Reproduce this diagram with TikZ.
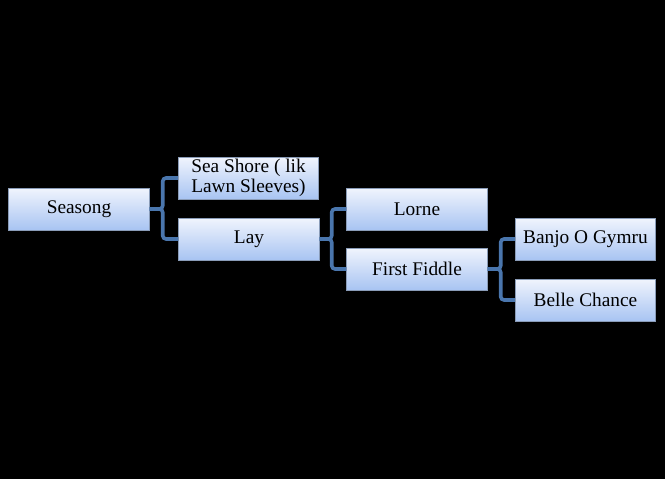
\documentclass[tikz,border=0pt]{standalone}
\usepackage{fontspec}
\setmainfont{Liberation Serif}
\definecolor{conncol}{HTML}{4A76AD}
\definecolor{boxtop}{HTML}{F0F4FD}
\definecolor{boxbot}{HTML}{A8C4F2}
\definecolor{boxedge}{HTML}{8A9CB8}
\begin{document}
\begin{tikzpicture}[x=0.75pt,y=-0.75pt,
  box/.style={draw=boxedge, line width=0.6pt, top color=boxtop, bottom color=boxbot,
    minimum width=105.5pt, minimum height=31.5pt, inner sep=1pt, align=center,
    font=\fontsize{14.5}{15}\selectfont},
  conn/.style={draw=conncol, line width=2.7pt, rounded corners=2.5pt}]
\fill[black] (0,0) rectangle (665,479);
\useasboundingbox (0,0) rectangle (665,479);
\node[box] (seasong) at (79,209) {\raisebox{-1.5pt}{Seasong}};
\node[box] (seashore) at (248.5,178) {\raisebox{-1.5pt}{\shortstack{Sea Shore ( lik\\[-1pt]Lawn Sleeves)}}};
\node[box] (lay) at (249,239) {\raisebox{-1.5pt}{Lay}};
\node[box] (lorne) at (417,209) {\raisebox{-1.5pt}{Lorne}};
\node[box] (fiddle) at (417,269) {\raisebox{-1.5pt}{First Fiddle}};
\node[box] (banjo) at (585.5,239) {\raisebox{-1.5pt}{Banjo O Gymru}};
\node[box] (belle) at (585.5,300) {\raisebox{-1.5pt}{Belle Chance}};
\draw[conn] (seasong.east) -- ++(13,0) |- (seashore.west);
\draw[conn] (seasong.east) -- ++(13,0) |- (lay.west);
\draw[conn] (lay.east) -- ++(12,0) |- (lorne.west);
\draw[conn] (lay.east) -- ++(12,0) |- (fiddle.west);
\draw[conn] (fiddle.east) -- ++(13,0) |- (banjo.west);
\draw[conn] (fiddle.east) -- ++(13,0) |- (belle.west);
\end{tikzpicture}
\end{document}
